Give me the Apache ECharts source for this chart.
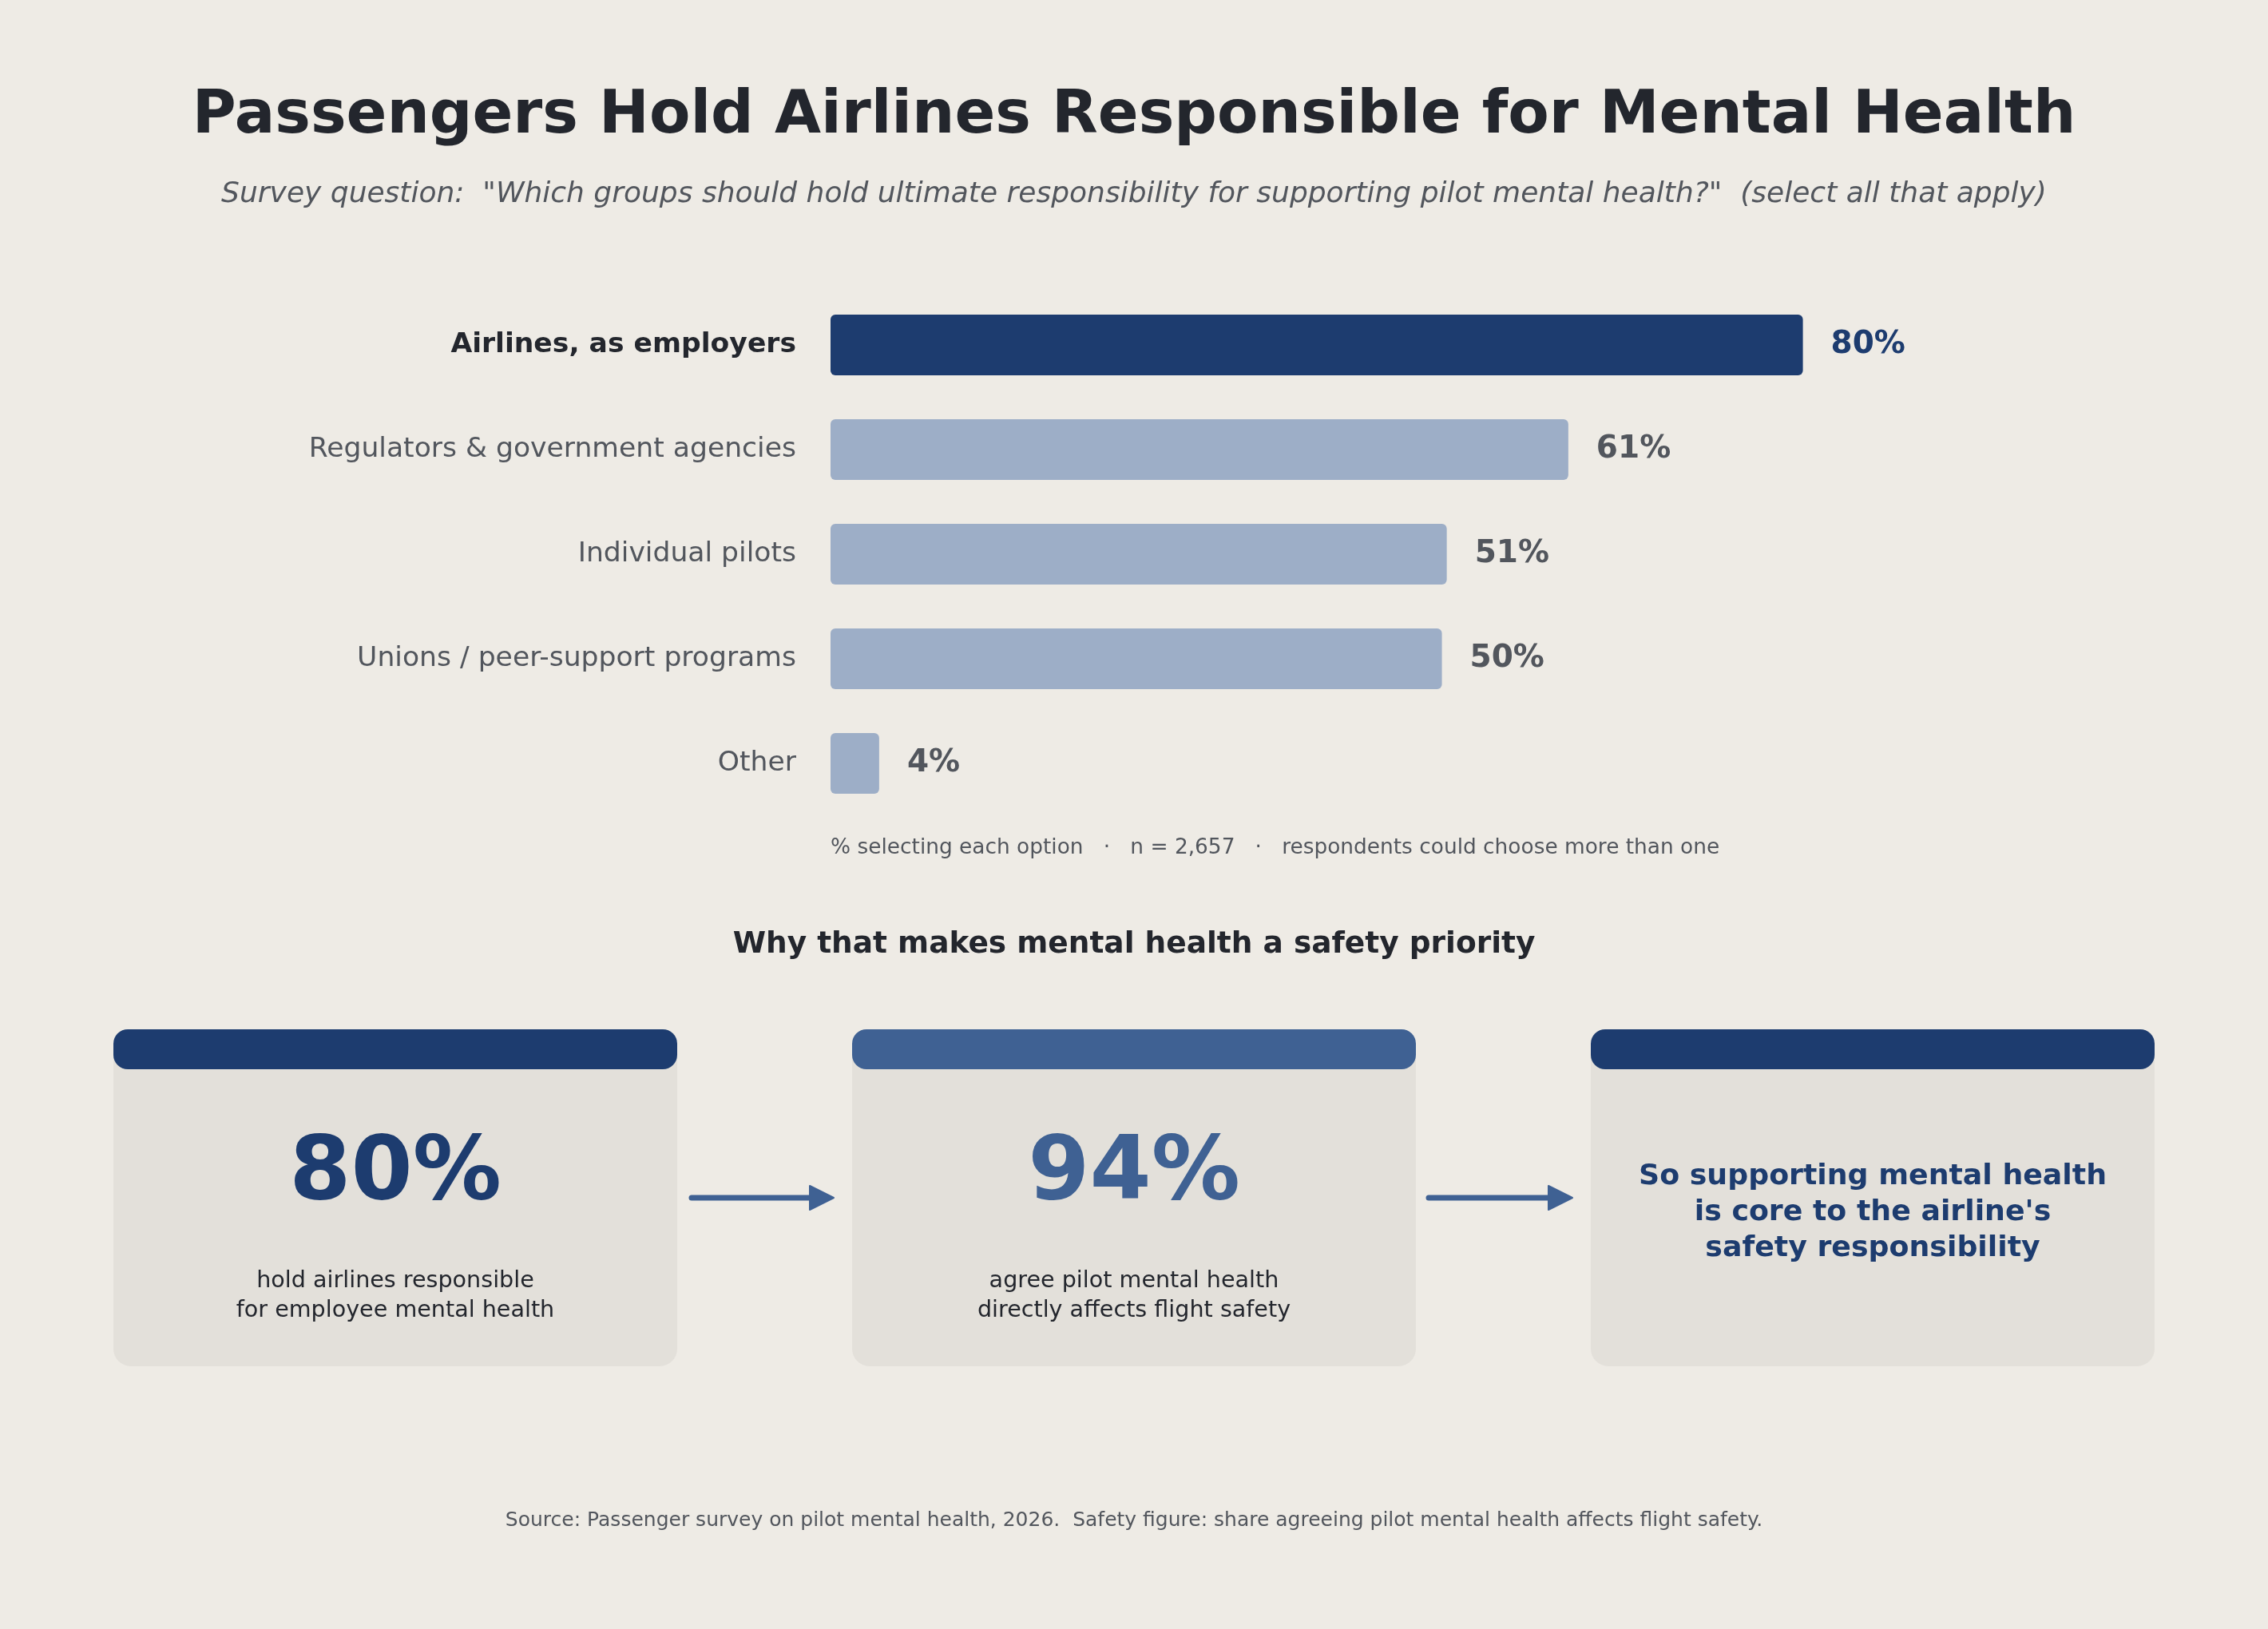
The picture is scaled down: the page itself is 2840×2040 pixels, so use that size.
<!DOCTYPE html>
<html><head><meta charset="utf-8">
<script src="https://cdn.jsdelivr.net/npm/echarts/dist/echarts.min.js"></script>
<style>html,body{margin:0;padding:0;background:#eeebe5;}#c{width:2840px;height:2040px;}</style>
</head><body><div id="c"></div>
<script>
// ---- data ----
const titleText = 'Passengers Hold Airlines Responsible for Mental Health';
const subtitleText = 'Survey question:  "Which groups should hold ultimate responsibility for supporting pilot mental health?"  (select all that apply)';
const categories = ['Airlines, as employers', 'Regulators & government agencies', 'Individual pilots', 'Unions / peer-support programs', 'Other'];
const values = [80, 60.7, 50.7, 50.3, 4];
const highlightIndex = 0;
const footnoteText = '% selecting each option   \u00b7   n = 2,657   \u00b7   respondents could choose more than one';
const sectionHeading = 'Why that makes mental health a safety priority';
const cardStats = [80, 94];
const cardCaptions = ['hold airlines responsible\nfor employee mental health', 'agree pilot mental health\ndirectly affects flight safety'];
const conclusionText = "So supporting mental health\nis core to the airline's\nsafety responsibility";
const sourceText = 'Source: Passenger survey on pilot mental health, 2026.  Safety figure: share agreeing pilot mental health affects flight safety.';

// ---- style ----
const FONT = '"DejaVu Sans", sans-serif';
const NAVY = '#1d3c6f', MID = '#3f6193', LIGHT = '#9daec7';
const DARK = '#23262d', GRAY = '#52565d', CARD = '#e3e0da';

const chart = echarts.init(document.getElementById('c'), null, {renderer: 'canvas'});

const cardX = [142, 1067, 1992], cardW = 706, cardTop = 1289, cardH = 422;
const headerColors = [NAVY, MID, NAVY];
const graphic = [];
function txt(x, y, text, size, color, weight, extra) {
  graphic.push(Object.assign({type: 'text', x: x, y: y, silent: true,
    style: Object.assign({text: text, fontFamily: FONT, fontSize: size, fill: color, fontWeight: weight || 'normal',
      align: 'center', verticalAlign: 'middle'}, extra || {})}));
}
txt(1420, 147, titleText, 75, DARK, 'bold');
txt(1420, 244, subtitleText, 36, GRAY, 'normal', {fontStyle: 'italic'});
txt(1040, 1062, footnoteText, 26.4, GRAY, 'normal', {align: 'left'});
txt(1420, 1183, sectionHeading, 37.5, DARK, 'bold');
for (let i = 0; i < 3; i++) {
  graphic.push({type: 'rect', shape: {x: cardX[i], y: cardTop, width: cardW, height: cardH, r: 22}, style: {fill: CARD}, silent: true});
  graphic.push({type: 'rect', shape: {x: cardX[i], y: cardTop, width: cardW, height: 50, r: 18}, style: {fill: headerColors[i]}, silent: true});
}
for (let i = 0; i < 2; i++) {
  const cx = cardX[i] + cardW / 2;
  txt(cx, 1472, cardStats[i] + '%', 111, headerColors[i], 'bold');
  txt(cx, 1623, cardCaptions[i], 28.6, DARK, 'normal', {lineHeight: 36.5});
}
txt(cardX[2] + cardW / 2, 1519, conclusionText, 36.3, NAVY, 'bold', {lineHeight: 45});
// arrows
[[866, 1044], [1789, 1969]].forEach(function (a) {
  graphic.push({type: 'line', shape: {x1: a[0], y1: 1500, x2: a[1] - 20, y2: 1500}, style: {stroke: MID, lineWidth: 7, lineCap: 'round'}, silent: true});
  graphic.push({type: 'polygon', shape: {points: [[a[1] - 30, 1485], [a[1], 1500], [a[1] - 30, 1515]]}, style: {fill: MID, stroke: MID, lineWidth: 2, lineJoin: 'round'}, silent: true});
});
txt(1420, 1904, sourceText, 25, GRAY, 'normal');

chart.setOption({
  backgroundColor: '#eeebe5',
  animation: false,
  textStyle: {fontFamily: FONT},
  grid: {left: 1040, width: 1522, top: 366.5, height: 655, containLabel: false},
  xAxis: {type: 'value', min: 0, max: 100, show: false},
  yAxis: {
    type: 'category', data: categories, inverse: true,
    axisLine: {show: false}, axisTick: {show: false}, splitLine: {show: false},
    axisLabel: {
      margin: 43,
      formatter: function (v, i) { return (i === highlightIndex ? '{b|' : '{n|') + v + '}'; },
      rich: {
        b: {fontFamily: FONT, fontSize: 34.6, fontWeight: 'bold', color: DARK},
        n: {fontFamily: FONT, fontSize: 34.6, color: GRAY}
      }
    }
  },
  series: [{
    type: 'bar', barWidth: 76,
    data: values.map(function (v, i) {
      return {value: v,
        itemStyle: {color: i === highlightIndex ? NAVY : LIGHT, borderRadius: 6},
        label: {color: i === highlightIndex ? NAVY : GRAY}};
    }),
    label: {show: true, position: 'right', distance: 35, fontFamily: FONT, fontSize: 39, fontWeight: 'bold',
      formatter: function (p) { return Math.round(p.value) + '%'; }}
  }],
  graphic: graphic
});
</script></body></html>
